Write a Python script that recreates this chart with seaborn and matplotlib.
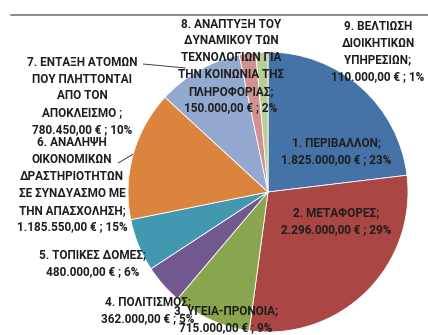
import matplotlib
matplotlib.use("Agg")
import matplotlib.pyplot as plt
from matplotlib.lines import Line2D
import seaborn as sns

sns.set_theme(style="white")
plt.rcParams["font.family"] = ["Roboto", "DejaVu Sans"]

# Budget per axis (EUR)
categories = [
    "1. ΠΕΡΙΒΑΛΛΟΝ;",
    "2. ΜΕΤΑΦΟΡΕΣ;",
    "3. ΥΓΕΙΑ-ΠΡΟΝΟΙΑ;",
    "4. ΠΟΛΙΤΙΣΜΟΣ;",
    "5. ΤΟΠΙΚΕΣ ΔΟΜΕΣ;",
    "6. ΑΝΑΛΗΨΗ\nΟΙΚΟΝΟΜΙΚΩΝ\nΔΡΑΣΤΗΡΙΟΤΗΤΩΝ\nΣΕ ΣΥΝΔΥΑΣΜΟ ΜΕ\nΤΗΝ ΑΠΑΣΧΟΛΗΣΗ;",
    "7. ΕΝΤΑΞΗ ΑΤΟΜΩΝ\nΠΟΥ ΠΛΗΤΤΟΝΤΑΙ\nΑΠΟ ΤΟΝ\nΑΠΟΚΛΕΙΣΜΟ ;",
    "8. ΑΝΑΠΤΥΞΗ ΤΟΥ\nΔΥΝΑΜΙΚΟΥ ΤΩΝ\nΤΕΧΝΟΛΟΓΙΩΝ ΓΙΑ\nΤΗΝ ΚΟΙΝΩΝΙΑ ΤΗΣ\nΠΛΗΡΟΦΟΡΙΑΣ;",
    "9. ΒΕΛΤΙΩΣΗ\nΔΙΟΙΚΗΤΙΚΩΝ\nΥΠΗΡΕΣΙΩΝ;",
]
amounts = [1825000, 2296000, 715000, 362000, 480000, 1185550, 780450, 150000, 110000]

colors = sns.color_palette([
    "#4572A7", "#AA4643", "#89A54E", "#71588F", "#4198AF",
    "#DB843D", "#93A9CF", "#D19392", "#B9CD96",
])

# Label anchor points, in pie units (radius = 1)
label_pos = [
    (0.49, 0.29), (0.49, -0.207), (-0.30, -0.907), (-0.857, -0.843),
    (-1.25, -0.507), (-1.40, 0.05), (-1.329, 0.686), (-0.264, 0.90),
    (0.786, 1.004),
]
# Leader lines: (text end, slice edge)
leaders = {
    6: ((-0.89, 0.914), (-0.59, 0.886)),
    5: ((-1.07, 0.207), (-0.964, 0.27)),
}


def euro(v):
    s = f"{v:,.2f}"
    return s.replace(",", "#").replace(".", ",").replace("#", ".")


W, H = 428, 335
fig = plt.figure(figsize=(W / 100, H / 100), dpi=100)
fig.patch.set_facecolor("white")

cx, cy, r = 268, 192, 140
ax = fig.add_axes([(cx - r) / W, (H - cy - r) / H, 2 * r / W, 2 * r / H])
ax.pie(amounts, colors=colors, startangle=90, counterclock=False,
       wedgeprops=dict(edgecolor="white", linewidth=0.6))
ax.set_xlim(-1, 1)
ax.set_ylim(-1, 1)
ax.set_aspect("equal")
ax.axis("off")

total = sum(amounts)
for name, val, (lx, ly) in zip(categories, amounts, label_pos):
    pct = round(100 * val / total)
    txt = f"{name}\n{euro(val)} € ; {pct}%"
    ax.text(lx, ly, txt, ha="center", va="center", fontsize=8.5,
            fontweight="bold", color="#1e1e1e", linespacing=1.38,
            clip_on=False)

for i, (p0, p1) in leaders.items():
    ax.add_line(Line2D([p0[0], p1[0]], [p0[1], p1[1]], color="#404040",
                       linewidth=0.7, clip_on=False))

# Frame edge along the top
fig.add_artist(Line2D([11 / W, 1.0], [1 - 14.5 / H, 1 - 14.5 / H],
                      color="#8c8c8c", linewidth=1.4))

fig.savefig("out.png", dpi=100, facecolor="white")
